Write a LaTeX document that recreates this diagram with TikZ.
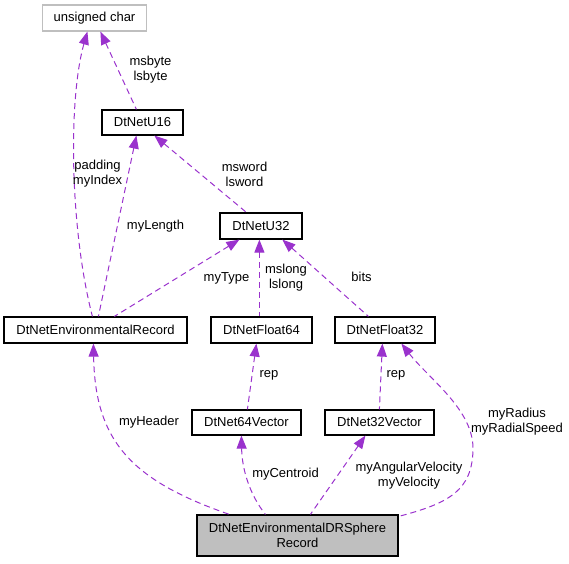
\documentclass[tikz,border=0pt]{standalone}
\usepackage{fontspec}
\setmainfont{Liberation Sans}
\usetikzlibrary{arrows.meta,calc}
\definecolor{edgepurple}{HTML}{9A32CD}
\definecolor{boxgray}{HTML}{BFBFBF}
\begin{document}
\begin{tikzpicture}[x=1pt,y=-1pt,
  cls/.style={draw=black,line width=1.2pt,inner sep=0pt,align=center,font=\fontsize{13}{15}\selectfont},
  ext/.style={cls,draw=boxgray},
  main/.style={cls,fill=boxgray},
  edge/.style={draw=edgepurple,line width=1pt,dash pattern=on 6pt off 4pt,
    {Triangle[length=13pt,width=10pt,fill=edgepurple]}-},
  lbl/.style={inner sep=0pt,align=center,font=\fontsize{13}{15}\selectfont}]
\path[use as bounding box] (0,0) rectangle (569,563);

% classes
\node[ext,minimum width=104pt,minimum height=26pt] (uchar) at (94.5,18) {unsigned char};
\node[cls,minimum width=81pt,minimum height=25pt] (u16) at (142.5,122.5) {DtNetU16};
\node[cls,minimum width=82pt,minimum height=26pt] (u32) at (261,226) {DtNetU32};
\node[cls,minimum width=183pt,minimum height=26pt] (envrec) at (95.5,330) {DtNetEnvironmentalRecord};
\node[cls,minimum width=101pt,minimum height=26pt] (f64) at (261.5,330) {DtNetFloat64};
\node[cls,minimum width=100pt,minimum height=26pt] (f32) at (385,330) {DtNetFloat32};
\node[cls,minimum width=109pt,minimum height=25pt] (v64) at (246.5,422.5) {DtNet64Vector};
\node[cls,minimum width=109pt,minimum height=25pt] (v32) at (379.5,422.5) {DtNet32Vector};
\node[main,minimum width=201pt,minimum height=41pt] (sphere) at (297.5,535.5) {DtNetEnvironmentalDRSphere\\Record};

% connectors (arrow at the used class)
\draw[edge] ($(uchar.south west)+(58.5,0)$) -- ($(u16.north west)+(35,0)$);
\draw[edge] ($(uchar.south west)+(45.5,0)$) .. controls (68,100) and (70,230) .. ($(envrec.north west)+(89,0)$);
\draw[edge] ($(u16.south west)+(35,0)$) -- ($(envrec.north west)+(95,0)$);
\draw[edge] ($(u16.south west)+(53,0)$) -- ($(u32.north west)+(27,0)$);
\draw[edge] ($(u32.south west)+(20,0)$) -- ($(envrec.north west)+(111,0)$);
\draw[edge] ($(u32.south west)+(40,0)$) -- ($(f64.north west)+(49,0)$);
\draw[edge] ($(u32.south west)+(63,0)$) -- ($(f32.north west)+(34,0)$);
\draw[edge] ($(f64.south west)+(46,0)$) -- ($(v64.north west)+(56,0)$);
\draw[edge] ($(f32.south west)+(48,0)$) -- ($(v32.north west)+(55,0)$);
\draw[edge] ($(envrec.south west)+(90,0)$) .. controls (95,440) and (130,480) .. ($(sphere.north west)+(33,0)$);
\draw[edge] ($(v64.south west)+(50,0)$) .. controls (242,470) and (250,495) .. ($(sphere.north west)+(69,0)$);
\draw[edge] ($(v32.south west)+(41,0)$) -- ($(sphere.north west)+(114,0)$);
\draw[edge] ($(f32.south west)+(67,0)$) .. controls (430,380) and (474,410) .. (473,450)
  .. controls (472,490) and (450,503) .. ($(sphere.north east)+(0,2)$);

% labels
\node[lbl] (lbyte) at (150.5,69.5) {msbyte\\lsbyte};
\node[lbl] (lpad) at (97.5,174) {padding\\myIndex};
\node[lbl] (lword) at (244.5,174) {msword\\lsword};
\node[lbl] (llen) at (155.5,226) {myLength};
\node[lbl] (ltype) at (226.5,278) {myType};
\node[lbl] (llong) at (286,278) {mslong\\lslong};
\node[lbl] (lbits) at (361.5,277) {bits};
\node[lbl] (lrep1) at (269,375) {rep};
\node[lbl] (lrep2) at (396,375) {rep};
\node[lbl] (lhead) at (149,422) {myHeader};
\node[lbl] (lcent) at (285.5,474) {myCentroid};
\node[lbl] (lang) at (409,475.5) {myAngularVelocity\\myVelocity};
\node[lbl] (lrad) at (517,421.5) {myRadius\\myRadialSpeed};
\end{tikzpicture}
\end{document}
